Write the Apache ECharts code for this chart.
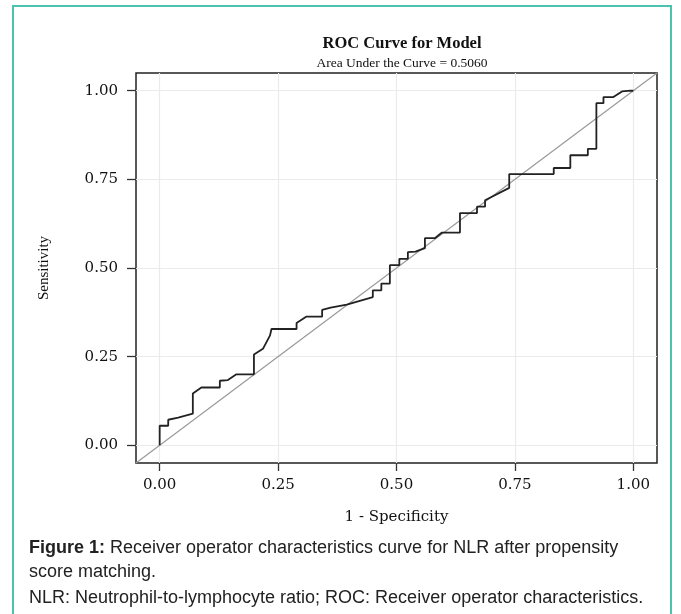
<!DOCTYPE html>
<html>
<head>
<meta charset="utf-8">
<script src="https://cdn.jsdelivr.net/npm/echarts@6.0.0/dist/echarts.min.js"></script>
<style>
  html, body { margin: 0; padding: 0; background: #ffffff; }
  #chart { width: 681px; height: 614px; }
</style>
</head>
<body>
<div id="chart"></div>
<script>
// ROC curve points (1 - specificity, sensitivity)
const fpr = [0,0,0.018,0.018,0.039,0.070,0.070,0.088,0.127,0.127,0.144,0.162,0.199,0.199,0.218,0.233,0.236,0.289,0.289,0.310,0.343,0.343,0.361,0.395,0.450,0.450,0.468,0.468,0.486,0.486,0.506,0.506,0.524,0.524,0.540,0.560,0.560,0.581,0.596,0.634,0.634,0.670,0.670,0.687,0.687,0.738,0.738,0.832,0.832,0.867,0.867,0.904,0.904,0.922,0.922,0.937,0.937,0.958,0.976,0.994,1];
const tpr = [0,0.055,0.055,0.072,0.078,0.089,0.146,0.163,0.163,0.182,0.184,0.200,0.200,0.256,0.272,0.310,0.328,0.328,0.345,0.363,0.363,0.382,0.388,0.397,0.418,0.437,0.437,0.456,0.456,0.508,0.508,0.526,0.526,0.545,0.546,0.556,0.584,0.584,0.600,0.600,0.655,0.655,0.673,0.673,0.691,0.726,0.765,0.765,0.782,0.782,0.818,0.818,0.836,0.836,0.965,0.965,0.982,0.982,0.998,1,1];
// reference (chance) line
const refX = [-0.05, 1.05];
const refY = [-0.05, 1.05];
// axis ticks
const xTicks = [0, 0.25, 0.5, 0.75, 1];
const yTicks = [0, 0.25, 0.5, 0.75, 1];
const titleText = 'ROC Curve for Model';
const subText = 'Area Under the Curve = 0.5060';
const xName = '1 - Specificity';
const yName = 'Sensitivity';
const captionLine1Bold = 'Figure 1:';
const captionLine1 = ' Receiver operator characteristics curve for NLR after propensity';
const captionLine2 = 'score matching.';
const captionLine3 = 'NLR: Neutrophil-to-lymphocyte ratio; ROC: Receiver operator characteristics.';

const rocData = fpr.map((x, i) => [x, tpr[i]]);
const refData = refX.map((x, i) => [x, refY[i]]);

const serif = "'Liberation Serif', 'Times New Roman', serif";
const tickFont = "'DejaVu Serif', serif";
const sans = "'Liberation Sans', Arial, sans-serif";

const chart = echarts.init(document.getElementById('chart'), null, { renderer: 'canvas' });
chart.setOption({
  animation: false,
  backgroundColor: '#ffffff',
  title: {
    text: titleText,
    subtext: subText,
    left: 397,
    top: 30,
    textAlign: 'center',
    itemGap: 4,
    textStyle: { fontFamily: serif, fontWeight: 'bold', fontSize: 16.5, color: '#111' },
    subtextStyle: { fontFamily: serif, fontSize: 13.5, color: '#111' }
  },
  grid: {
    left: 136, right: 24, top: 73, bottom: 151,
    show: true, borderColor: '#222', borderWidth: 1.5, backgroundColor: 'transparent'
  },
  xAxis: {
    type: 'value', min: -0.05, max: 1.05,
    name: xName, nameLocation: 'middle', nameGap: 47,
    nameTextStyle: { fontFamily: tickFont, fontSize: 15, color: '#111' },
    axisLine: { show: false, onZero: false },
    axisTick: { show: true, customValues: xTicks, length: 8, lineStyle: { color: '#333', width: 1.3 } },
    axisLabel: { customValues: xTicks, margin: 15, formatter: v => v.toFixed(2),
      fontFamily: tickFont, fontSize: 15, color: '#111' },
    splitLine: { show: true, lineStyle: { color: '#ebebeb', width: 1.2 } }
  },
  yAxis: {
    type: 'value', min: -0.05, max: 1.05,
    name: yName, nameLocation: 'middle', nameGap: 84,
    nameTextStyle: { fontFamily: serif, fontSize: 15, color: '#111' },
    axisLine: { show: false, onZero: false },
    axisTick: { show: true, customValues: yTicks, length: 9, lineStyle: { color: '#333', width: 1.3 } },
    axisLabel: { customValues: yTicks, margin: 18, formatter: v => v.toFixed(2),
      fontFamily: tickFont, fontSize: 15, color: '#111' },
    splitLine: { show: true, lineStyle: { color: '#ebebeb', width: 1.2 } }
  },
  series: [
    {
      type: 'line', data: refData, showSymbol: false, symbol: 'none', silent: true,
      lineStyle: { color: '#9a9a9a', width: 1.2 }, z: 2
    },
    {
      type: 'line', data: rocData, showSymbol: false, symbol: 'none', silent: true,
      lineStyle: { color: '#222', width: 1.8 }, z: 3
    }
  ],
  graphic: [
    {
      type: 'rect', silent: true, z: -1,
      shape: { x: 13, y: 6, width: 658, height: 700 },
      style: { fill: 'none', stroke: '#4cc3ad', lineWidth: 2 }
    },
    {
      type: 'text', left: 29, top: 539,
      style: {
        text: '{b|' + captionLine1Bold + '}{r|' + captionLine1 + '}',
        rich: {
          b: { fontFamily: sans, fontWeight: 'bold', fontSize: 18, fill: '#222' },
          r: { fontFamily: sans, fontSize: 18, fill: '#222' }
        }
      }
    },
    {
      type: 'text', left: 29, top: 563,
      style: { text: captionLine2, fontFamily: sans, fontSize: 18, fill: '#222' }
    },
    {
      type: 'text', left: 29, top: 589,
      style: { text: captionLine3, fontFamily: sans, fontSize: 18, fill: '#222' }
    }
  ]
});
</script>
</body>
</html>
